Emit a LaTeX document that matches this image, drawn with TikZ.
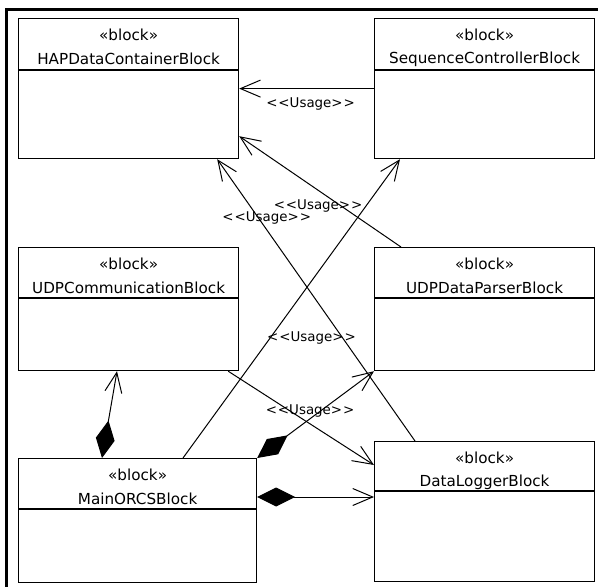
\documentclass[tikz,border=0pt]{standalone}
\usepackage{fontspec}
\setmainfont{DejaVu Sans}
\usepackage{tikz}
\usetikzlibrary{positioning,arrows.meta,calc}

\tikzset{
  blk/.style={draw, line width=1.2pt, anchor=north west, inner sep=0pt, minimum width=220pt},
  stereo/.style={font=\fontsize{15.2}{15}\selectfont, inner sep=0pt},
  usage/.style={line width=1pt, -{Straight Barb[length=20pt,width=17pt]}},
  comp/.style={line width=1pt, {Diamond[length=38pt,width=19pt]}-{Straight Barb[length=20pt,width=17pt]}},
  ulabel/.style={font=\fontsize{13.4}{13}\selectfont, inner sep=0pt},
}
\newcommand{\usg}{<\kern1pt<Usage>\kern1pt>}

\begin{document}
\begin{tikzpicture}[x=1pt, y=-1pt]
\useasboundingbox (0,0) rectangle (598,587);
\draw[line width=3pt] (6.5,9.5) rectangle (700,700);

% blocks
\node[blk, minimum height=140pt] (hap) at (18,18) {};
\node[blk, minimum height=140pt] (seq) at (374,18) {};
\node[blk, minimum height=123pt] (comm) at (18,247) {};
\node[blk, minimum height=123pt] (parser) at (374,247) {};
\node[blk, minimum height=124pt, minimum width=238pt] (main) at (18,458) {};
\node[blk, minimum height=140pt] (logger) at (374,441) {};

% headers
\node[stereo] (hapS) at ([yshift=-17]hap.north) {«block»};
\node[stereo] (hapN) at ([yshift=-41]hap.north) {HAPDataContainerBlock};
\node[stereo] (seqS) at ([yshift=-17]seq.north) {«block»};
\node[stereo] (seqN) at ([yshift=-41]seq.north) {SequenceControllerBlock};
\node[stereo] (commS) at ([yshift=-17]comm.north) {«block»};
\node[stereo] (commN) at ([yshift=-41]comm.north) {UDPCommunicationBlock};
\node[stereo] (parserS) at ([yshift=-17]parser.north) {«block»};
\node[stereo] (parserN) at ([yshift=-41]parser.north) {UDPDataParserBlock};
\node[stereo] (mainS) at ([yshift=-17]main.north) {«block»};
\node[stereo] (mainN) at ([yshift=-41]main.north) {MainORCSBlock};
\node[stereo] (loggerS) at ([yshift=-17]logger.north) {«block»};
\node[stereo] (loggerN) at ([yshift=-41]logger.north) {DataLoggerBlock};

% compartment lines
\draw[line width=1.2pt] ([yshift=-52]hap.north west) -- ([yshift=-52]hap.north east);
\draw[line width=1.2pt] ([yshift=-52]seq.north west) -- ([yshift=-52]seq.north east);
\draw[line width=1.2pt] ([yshift=-51]comm.north west) -- ([yshift=-51]comm.north east);
\draw[line width=1.2pt] ([yshift=-51]parser.north west) -- ([yshift=-51]parser.north east);
\draw[line width=1.2pt] ([yshift=-51]main.north west) -- ([yshift=-51]main.north east);
\draw[line width=1.2pt] ([yshift=-50]logger.north west) -- ([yshift=-50]logger.north east);

% usages
\draw[usage] (seq.west) -- node[ulabel, xshift=4, yshift=-15] {\usg} (hap.east);
\draw[usage] ([xshift=27]parser.north west) -- node[ulabel, xshift=-2, yshift=-14] {\usg} ([yshift=23]hap.south east);
\draw[usage] ([xshift=41]logger.north west) -- node[ulabel, pos=0.79, xshift=8] {\usg} ([xshift=-22]hap.south east);
\draw[usage] ([xshift=165]main.north west) -- node[ulabel, pos=0.403, xshift=41] {\usg} ([xshift=26]seq.south west);
\draw[usage] ([xshift=-11]comm.south east) -- node[ulabel, xshift=9, yshift=7] {\usg} ([yshift=-24]logger.north west);

% parts
\draw[comp] ([xshift=84]main.north west) -- ([xshift=99]comm.south west);
\draw[comp] (main.north east) -- (parser.south west);
\draw[comp] ([yshift=-39]main.north east) -- ([yshift=-56]logger.north west);
\end{tikzpicture}
\end{document}
